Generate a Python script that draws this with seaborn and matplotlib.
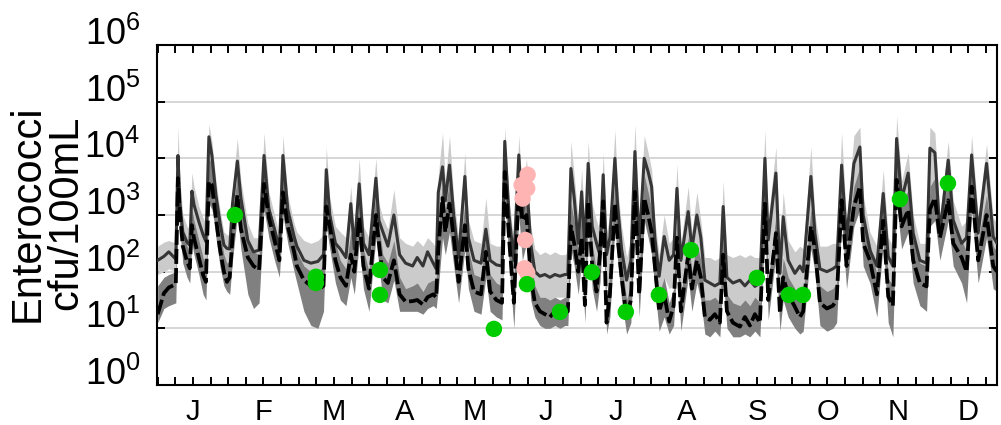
import numpy as np
import pandas as pd
import matplotlib
matplotlib.use("Agg")
import matplotlib.pyplot as plt
import seaborn as sns
from matplotlib.ticker import FixedLocator, FuncFormatter, LogLocator, NullFormatter, MultipleLocator

# x in months since Jan 1, values as log10(cfu/100mL)
month_pos = [
    0.000, 0.088, 0.157, 0.257, 0.287, 0.316, 0.356, 0.416, 0.455, 0.485, 0.515, 0.584, 0.644, 0.684, 0.726, 0.769, 0.797, 0.826, 0.882, 0.939, 0.982,
    1.021, 1.061, 1.130, 1.180, 1.279, 1.359, 1.438, 1.508, 1.577, 1.657, 1.726, 1.776, 1.845, 1.935,
    1.974, 2.074, 2.173, 2.272, 2.352, 2.391, 2.441, 2.521, 2.590, 2.670, 2.739, 2.789, 2.858, 2.918, 2.997, 3.095, 3.138,
    3.194, 3.265, 3.350, 3.431, 3.516, 3.616, 3.681, 3.762, 3.828, 3.908, 3.950,
    3.980, 4.040, 4.079, 4.139, 4.199, 4.268, 4.357, 4.407, 4.487, 4.586, 4.655, 4.715, 4.804, 4.884, 4.923, 4.983, 5.052, 5.122, 5.172, 5.231, 5.291,
    5.350, 5.421, 5.492, 5.563, 5.634, 5.705, 5.776, 5.818, 5.861, 5.908, 5.965, 6.013, 6.060, 6.106, 6.163, 6.225, 6.272, 6.319, 6.367, 6.414, 6.485,
    6.523, 6.580, 6.651, 6.712, 6.769, 6.830, 6.901, 6.957, 7.006, 7.052, 7.113, 7.184, 7.255, 7.318, 7.365, 7.421, 7.525,
    7.577, 7.648, 7.704, 7.761, 7.832, 7.903, 7.974, 8.021, 8.074, 8.159, 8.258, 8.329, 8.400, 8.471, 8.542,
    8.613, 8.660, 8.769, 8.826, 8.872, 8.943, 9.038, 9.109, 9.156, 9.265, 9.322, 9.393, 9.492, 9.577, 9.630, 9.701, 9.771, 9.875, 9.960, 10.007, 10.102, 10.201,
    10.291, 10.362, 10.428, 10.481, 10.552, 10.645, 10.716, 10.811, 10.906, 10.953, 11.024, 11.095, 11.213, 11.284, 11.403, 11.474, 11.545, 11.638, 11.757, 11.851, 11.904,
]

solid_log = [
    2.20, 2.27, 2.35, 2.22, 4.05, 3.20, 2.70, 2.52, 2.47, 3.42, 3.18, 2.88, 2.65, 2.53, 4.38, 4.05, 3.70, 3.35, 2.88, 2.47, 2.41,
    2.40, 3.20, 3.95, 3.30, 2.55, 2.35, 2.38, 4.05, 3.10, 2.75, 2.40, 4.05, 3.10, 2.62,
    2.45, 2.20, 2.15, 2.18, 2.30, 3.80, 3.00, 2.50, 2.40, 2.25, 3.20, 2.40, 3.55, 2.50, 2.30, 3.65, 2.90,
    2.70, 2.45, 3.00, 2.30, 2.15, 2.10, 2.25, 2.10, 2.35, 2.15, 2.05,
    3.40, 3.85, 3.25, 3.88, 3.00, 2.25, 3.68, 2.60, 2.20, 2.15, 2.75, 2.20, 2.12, 2.10, 4.30, 3.00, 2.20, 4.06, 3.00, 3.60, 2.50,
    2.00, 1.92, 1.95, 1.90, 1.95, 1.92, 1.95, 1.95, 3.82, 3.30, 2.50, 3.41, 2.40, 3.91, 2.80, 2.50, 2.30, 3.71, 2.30, 2.60, 4.00,
    3.18, 2.40, 1.85, 2.20, 4.12, 2.47, 4.00, 3.76, 3.50, 2.59, 1.92, 2.62, 2.20, 2.30, 3.47, 2.20, 3.06,
    2.40, 3.00, 2.60, 1.85, 1.80, 1.75, 1.80, 3.15, 1.90, 1.80, 1.85, 1.75, 1.85, 1.74, 1.80,
    4.00, 2.56, 3.74, 1.97, 2.97, 2.20, 1.97, 2.10, 2.00, 3.68, 2.68, 2.05, 2.00, 2.05, 2.10, 3.88, 2.56, 3.91, 4.20, 3.00, 2.38, 2.10,
    3.38, 2.27, 2.10, 4.35, 3.27, 3.74, 2.68, 2.20, 2.15, 4.18, 4.10, 2.68, 3.97, 2.91, 2.50, 2.60, 4.06, 2.68, 3.91, 2.62, 2.50,
]

dashed_log = [
    1.25, 1.62, 1.72, 1.78, 3.65, 3.00, 2.45, 2.18, 2.06, 2.82, 2.59, 2.24, 1.94, 1.82, 3.59, 3.53, 3.24, 2.94, 2.41, 2.00, 1.82,
    1.90, 2.60, 3.35, 2.75, 2.25, 2.10, 2.03, 3.55, 2.95, 2.55, 2.20, 3.40, 2.80, 2.35,
    2.10, 1.85, 1.75, 1.68, 1.75, 3.15, 2.80, 2.20, 1.90, 1.75, 2.30, 2.00, 2.95, 2.10, 1.70, 3.00, 2.50,
    1.90, 1.80, 2.20, 1.60, 1.47, 1.48, 1.50, 1.42, 1.55, 1.60, 1.55,
    2.40, 3.30, 2.70, 3.20, 2.60, 1.82, 2.82, 2.05, 1.65, 1.60, 2.35, 1.65, 1.50, 1.45, 3.76, 2.60, 1.45, 3.47, 2.90, 3.00, 1.90,
    1.45, 1.30, 1.25, 1.20, 1.30, 1.25, 1.35, 1.30, 2.80, 2.50, 2.00, 2.60, 1.41, 3.24, 2.10, 1.65, 2.30, 3.24, 1.10, 1.60, 3.20,
    2.59, 1.90, 1.20, 1.50, 3.41, 1.60, 3.30, 3.00, 2.70, 2.10, 1.30, 1.60, 1.12, 1.40, 2.60, 1.30, 2.30,
    1.70, 2.20, 1.90, 1.20, 1.15, 1.25, 1.10, 2.30, 1.30, 1.10, 1.03, 1.20, 1.05, 1.25, 1.10,
    3.20, 1.50, 2.68, 1.27, 1.90, 1.60, 1.38, 1.20, 1.30, 2.80, 2.40, 1.45, 1.35, 1.40, 1.50, 3.26, 2.10, 3.15, 3.50, 2.50, 2.20, 1.60,
    2.90, 1.56, 1.40, 3.62, 2.80, 3.09, 2.20, 1.80, 1.74, 3.10, 3.30, 2.60, 3.26, 2.50, 2.25, 2.00, 3.50, 2.20, 3.00, 2.10, 2.00,
]

light_lo = [
    1.95, 2.00, 2.05, 2.00, 3.50, 2.90, 2.40, 2.25, 2.20, 2.90, 2.75, 2.45, 2.25, 2.20, 3.60, 3.50, 3.30, 3.00, 2.55, 2.20, 2.15,
    2.10, 2.70, 3.40, 2.90, 2.30, 2.15, 2.20, 3.50, 2.80, 2.50, 2.20, 3.40, 2.80, 2.35,
    2.20, 1.90, 1.40, 1.00, 1.60, 3.20, 2.60, 2.20, 2.10, 1.95, 2.30, 2.00, 2.90, 2.20, 2.00, 3.00, 2.60,
    2.10, 1.90, 2.30, 1.80, 1.70, 1.65, 1.70, 1.65, 1.80, 1.70, 1.75,
    2.10, 3.00, 2.70, 3.00, 2.60, 2.00, 2.80, 2.20, 1.85, 1.80, 2.20, 1.80, 1.75, 1.75, 3.50, 2.50, 1.10, 3.30, 2.70, 2.90, 1.90,
    1.70, 1.55, 1.55, 1.50, 1.55, 1.55, 1.55, 1.55, 2.60, 2.60, 2.00, 2.60, 1.80, 3.10, 2.20, 1.90, 1.80, 3.00, 1.70, 1.90, 3.20,
    2.70, 1.90, 1.40, 1.60, 3.30, 1.90, 3.30, 3.20, 2.90, 2.10, 1.50, 1.90, 1.70, 1.75, 2.70, 1.70, 2.40,
    1.90, 2.30, 2.00, 1.40, 1.40, 1.40, 1.40, 2.40, 1.40, 1.40, 1.40, 1.40, 1.40, 1.40, 1.40,
    3.20, 2.00, 3.00, 1.55, 2.30, 1.70, 1.55, 1.60, 1.55, 3.00, 2.20, 1.60, 1.55, 1.60, 1.70, 3.20, 2.10, 3.30, 3.50, 2.60, 2.10, 1.80,
    2.90, 1.90, 1.80, 3.60, 2.90, 3.20, 2.30, 1.90, 1.85, 3.50, 3.50, 2.40, 3.40, 2.60, 2.20, 2.30, 3.50, 2.30, 3.30, 2.30, 2.20,
]

light_hi = [
    2.45, 2.52, 2.55, 2.50, 4.55, 3.60, 3.00, 2.80, 2.75, 3.75, 3.50, 3.15, 2.95, 2.85, 4.60, 4.30, 3.95, 3.60, 3.10, 2.70, 2.65,
    2.65, 3.50, 4.35, 3.60, 2.85, 2.60, 2.60, 4.45, 3.40, 3.00, 2.65, 4.40, 3.35, 2.85,
    2.70, 2.55, 2.50, 2.55, 2.65, 4.20, 3.30, 2.80, 2.70, 2.60, 3.50, 2.70, 4.00, 2.80, 2.60, 4.00, 3.20,
    2.95, 2.75, 3.45, 2.60, 2.50, 2.45, 2.55, 2.45, 2.60, 2.50, 2.40,
    3.70, 4.45, 3.60, 4.40, 3.30, 2.60, 4.10, 2.90, 2.55, 2.50, 3.30, 2.50, 2.45, 2.45, 4.55, 3.30, 2.50, 4.40, 3.40, 4.00, 2.80,
    2.40, 2.30, 2.35, 2.30, 2.35, 2.30, 2.30, 2.35, 4.30, 3.70, 2.90, 3.80, 2.80, 4.30, 3.20, 2.90, 2.70, 4.10, 2.70, 3.00, 4.50,
    3.50, 2.80, 2.25, 2.60, 4.60, 2.90, 4.40, 4.10, 3.80, 2.90, 2.30, 3.00, 2.50, 2.60, 3.90, 2.50, 3.50,
    2.70, 3.40, 2.90, 2.25, 2.25, 2.20, 2.25, 3.60, 2.30, 2.25, 2.30, 2.25, 2.30, 2.25, 2.25,
    4.50, 2.90, 4.20, 2.35, 3.40, 2.55, 2.35, 2.45, 2.40, 4.20, 3.00, 2.45, 2.45, 2.50, 2.50, 4.45, 2.90, 4.40, 4.55, 3.35, 2.70, 2.45,
    3.80, 2.60, 2.45, 4.75, 3.60, 4.10, 3.00, 2.50, 2.50, 4.55, 4.45, 3.00, 4.30, 3.25, 2.80, 2.90, 4.40, 3.00, 4.25, 2.95, 2.85,
]

dark_lo = [
    1.10, 1.35, 1.40, 1.45, 3.20, 2.70, 2.15, 1.90, 1.80, 2.50, 2.30, 1.95, 1.60, 1.50, 3.20, 3.10, 2.90, 2.60, 2.10, 1.75, 1.65,
    1.60, 2.20, 3.00, 2.40, 1.60, 1.35, 1.45, 3.10, 2.60, 2.20, 1.90, 3.00, 2.50, 2.00,
    1.80, 1.30, 1.05, 1.00, 1.30, 2.80, 2.40, 1.80, 1.50, 1.40, 1.90, 1.60, 2.50, 1.70, 1.30, 2.60, 2.10,
    1.50, 1.45, 1.85, 1.30, 1.30, 1.30, 1.30, 1.25, 1.35, 1.40, 1.35,
    1.70, 2.60, 2.30, 2.70, 2.10, 1.45, 2.40, 1.70, 1.30, 1.25, 1.90, 1.30, 1.20, 1.15, 3.30, 2.20, 1.00, 3.00, 2.20, 2.50, 1.50,
    1.20, 1.05, 1.00, 1.00, 1.05, 1.00, 1.05, 1.05, 2.40, 2.10, 1.60, 2.20, 1.10, 2.80, 1.70, 1.30, 1.80, 2.80, 0.90, 1.20, 2.80,
    2.20, 1.50, 0.90, 1.10, 3.00, 1.20, 2.90, 2.60, 2.30, 1.70, 0.95, 1.20, 0.90, 1.05, 2.20, 0.95, 1.90,
    1.30, 1.80, 1.50, 0.90, 0.85, 0.95, 0.85, 1.90, 1.00, 0.85, 0.85, 0.90, 0.85, 0.95, 0.85,
    2.80, 1.15, 2.30, 0.95, 1.50, 1.20, 1.00, 0.90, 0.95, 2.40, 2.00, 1.05, 0.95, 1.00, 1.10, 2.90, 1.70, 2.80, 3.10, 2.10, 1.80, 1.20,
    2.50, 1.10, 0.85, 3.20, 2.40, 2.70, 1.80, 1.40, 1.30, 2.80, 2.90, 2.20, 2.90, 2.10, 1.80, 1.45, 3.10, 1.80, 2.60, 1.70, 1.65,
]

dark_hi = [
    1.75, 1.90, 1.95, 2.00, 3.95, 3.30, 2.75, 2.45, 2.35, 3.10, 2.90, 2.55, 2.25, 2.10, 4.00, 3.90, 3.55, 3.25, 2.70, 2.30, 2.15,
    2.20, 3.00, 3.70, 3.10, 2.50, 2.35, 2.30, 3.90, 3.20, 2.80, 2.45, 3.85, 3.10, 2.60,
    2.35, 2.10, 2.00, 2.00, 2.10, 3.60, 3.10, 2.50, 2.20, 2.05, 2.70, 2.30, 3.30, 2.40, 2.00, 3.40, 2.80,
    2.30, 2.15, 2.55, 1.90, 1.70, 1.75, 1.80, 1.65, 1.80, 1.85, 1.85,
    2.80, 3.60, 3.10, 3.60, 2.90, 2.20, 3.20, 2.40, 1.95, 1.90, 2.65, 1.95, 1.80, 1.75, 4.00, 2.90, 1.80, 3.80, 3.30, 3.40, 2.20,
    1.75, 1.55, 1.55, 1.50, 1.55, 1.50, 1.55, 1.55, 3.20, 2.90, 2.40, 3.00, 1.80, 3.60, 2.50, 2.00, 2.60, 3.60, 1.50, 2.00, 3.60,
    2.90, 2.20, 1.50, 1.80, 3.80, 2.00, 3.70, 3.40, 3.10, 2.40, 1.60, 1.90, 1.45, 1.70, 2.90, 1.60, 2.60,
    2.00, 2.50, 2.20, 1.50, 1.50, 1.55, 1.45, 2.60, 1.60, 1.45, 1.40, 1.50, 1.40, 1.55, 1.45,
    3.55, 1.85, 3.00, 1.60, 2.25, 1.90, 1.70, 1.55, 1.60, 3.10, 2.70, 1.75, 1.65, 1.70, 1.80, 3.60, 2.45, 3.50, 3.85, 2.85, 2.50, 1.95,
    3.20, 1.90, 1.75, 4.00, 3.15, 3.45, 2.55, 2.15, 2.10, 3.50, 3.65, 2.95, 3.60, 2.85, 2.55, 2.35, 3.85, 2.55, 3.35, 2.45, 2.35,
]

# observations
green_pos = [1.095, 2.244, 2.244, 3.152, 3.152, 4.769, 5.237, 5.705, 6.159, 6.641, 7.109, 7.563, 8.499, 8.953, 9.152, 10.528, 11.209]
green_log = [3.00, 1.91, 1.80, 2.03, 1.59, 0.99, 1.78, 1.29, 1.99, 1.29, 1.59, 2.38, 1.89, 1.59, 1.59, 3.28, 3.56]
pink_pos = [5.247, 5.162, 5.241, 5.176, 5.213, 5.204, 5.241]
pink_log = [3.71, 3.53, 3.47, 3.29, 2.56, 2.06, 1.98]

months = ["J", "F", "M", "A", "M", "J", "J", "A", "S", "O", "N", "D"]

sns.set_style("ticks")
plt.rcParams["font.family"] = ["Liberation Sans", "DejaVu Sans"]
plt.rcParams["mathtext.fontset"] = "custom"
plt.rcParams["mathtext.rm"] = "Liberation Sans"
plt.rcParams["mathtext.it"] = "Liberation Sans"
plt.rcParams["text.color"] = "black"
plt.rcParams["xtick.labelcolor"] = "black"
plt.rcParams["ytick.labelcolor"] = "black"

df = pd.DataFrame({
    "month": month_pos,
    "solid": 10 ** np.array(solid_log),
    "dashed": 10 ** np.array(dashed_log),
    "light_lo": 10 ** np.array(light_lo),
    "light_hi": 10 ** np.array(light_hi),
    "dark_lo": 10 ** np.array(dark_lo),
    "dark_hi": 10 ** np.array(dark_hi),
})
obs_g = pd.DataFrame({"month": green_pos, "val": 10 ** np.array(green_log)})
obs_p = pd.DataFrame({"month": pink_pos, "val": 10 ** np.array(pink_log)})

fig = plt.figure(figsize=(10.01, 4.25), dpi=100)
ax = fig.add_axes([157 / 1001, 40 / 425, 840 / 1001, 340 / 425])

ax.fill_between(df["month"], df["light_lo"], df["light_hi"], color="#cbcbcb", lw=0, zorder=1)
ax.fill_between(df["month"], df["dark_lo"], df["dark_hi"], color="#808080", lw=0, zorder=2)
sns.lineplot(data=df, x="month", y="solid", color="#363636", lw=2.2, ax=ax, zorder=3)
sns.lineplot(data=df, x="month", y="dashed", color="black", lw=2.7,
             linestyle=(0, (4.0, 1.1)), ax=ax, zorder=4)
sns.scatterplot(data=obs_p, x="month", y="val", color="#ffb4b4", s=140, edgecolor="none", ax=ax, zorder=5)
sns.scatterplot(data=obs_g, x="month", y="val", color="#00cc00", s=140, edgecolor="none", ax=ax, zorder=6)

ax.set_yscale("log")
ax.set_ylim(1, 1e6)
ax.set_xlim(-0.01, 11.905)
ax.set_xlabel("")
ax.set_ylabel("")

# y axis: decades, log minor ticks
ax.yaxis.set_major_locator(FixedLocator([10.0 ** k for k in range(7)]))
ax.yaxis.set_minor_locator(LogLocator(base=10, subs=np.arange(2, 10)))
ax.yaxis.set_minor_formatter(NullFormatter())
ax.set_yticklabels([r"$10^{%d}$" % k for k in range(7)])
plt.setp(ax.get_yticklabels(), va="baseline", fontsize=26, color="black")

# x axis: quarter-month ticks, month letters, gridlines at month boundaries
ax.xaxis.set_major_locator(MultipleLocator(0.25))

def month_fmt(x, pos):
    k = x - 0.5
    if abs(k - round(k)) < 1e-6 and 0 <= round(k) < 12:
        return months[int(round(k))]
    return ""

ax.xaxis.set_major_formatter(FuncFormatter(month_fmt))
ax.xaxis.set_minor_locator(FixedLocator(list(range(1, 12))))

ax.tick_params(axis="both", which="both", direction="in", top=True, right=True,
               width=1.4, color="black", labelcolor="black")
ax.tick_params(axis="x", which="major", length=6, labelsize=21, pad=9)
ax.tick_params(axis="x", which="minor", length=0)
ax.tick_params(axis="y", which="major", length=6, labelsize=26, pad=12)
ax.tick_params(axis="y", which="minor", length=6)

ax.grid(False)
ax.grid(True, axis="x", which="minor", color="#d0d0d0", lw=1.2, zorder=0)
ax.grid(True, axis="y", which="major", color="#d0d0d0", lw=1.2, zorder=0)
ax.set_axisbelow(True)
for sp in ax.spines.values():
    sp.set_visible(True)
    sp.set_linewidth(1.5)
    sp.set_color("black")

fig.text(47 / 1001, 1 - 213 / 425, "Enterococci\ncfu/100mL", rotation=90,
         ha="center", va="center", fontsize=30, linespacing=0.95,
         multialignment="center", color="black")

fig.savefig("out.png", dpi=100)
